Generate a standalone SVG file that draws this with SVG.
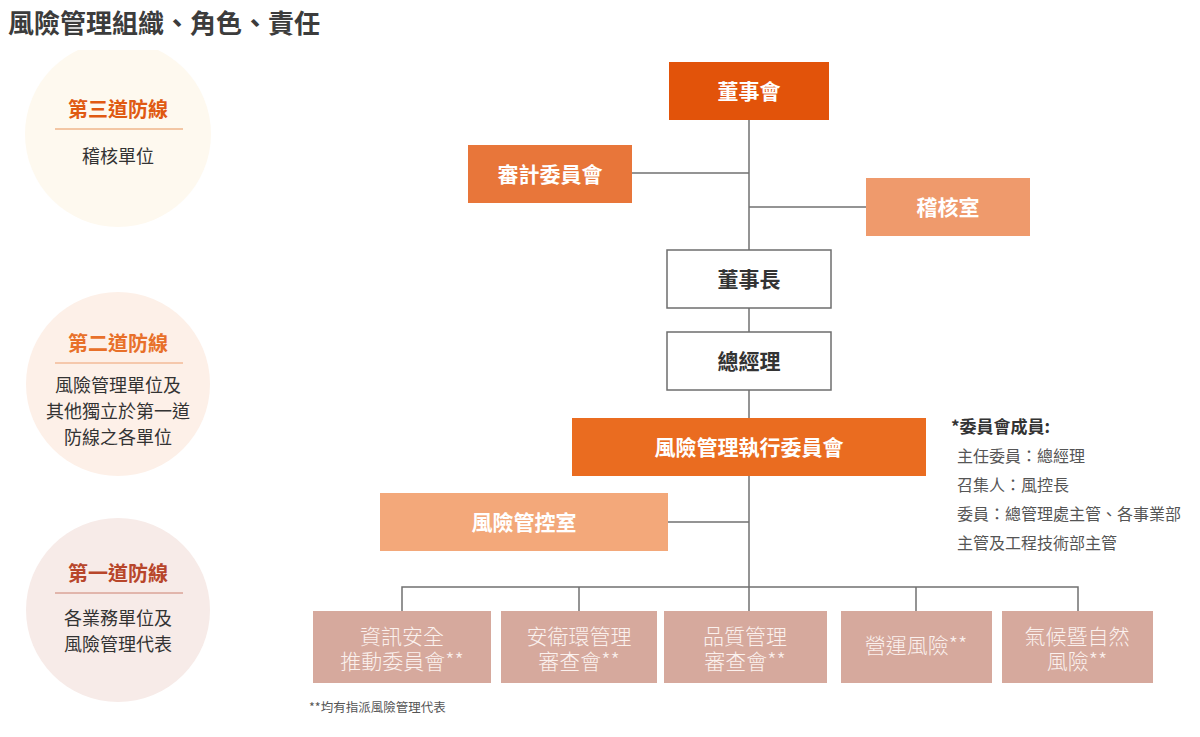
<svg xmlns="http://www.w3.org/2000/svg" width="1200" height="737" viewBox="0 0 1200 737">
<defs>
<style>
text{font-family:"Noto Sans CJK TC","Noto Sans CJK SC",sans-serif;}
.title{font-size:26px;font-weight:700;fill:#3c3c3c;}
.nt{font-size:21px;font-weight:700;fill:#ffffff;text-anchor:middle;}
.nd{font-size:21px;font-weight:700;fill:#333333;text-anchor:middle;}
.nb{font-size:21px;font-weight:300;fill:#fbf1ee;text-anchor:middle;}
.ch{font-size:20px;font-weight:700;text-anchor:middle;}
.cb{font-size:18px;font-weight:400;fill:#333333;text-anchor:middle;}
.mem{font-size:16px;fill:#555555;}
.conn{stroke:#707070;stroke-width:1.5;fill:none;}
.wbox{fill:#ffffff;stroke:#6e6e6e;stroke-width:1.5;}
.bbox{fill:#d6a99d;}
</style>
<clipPath id="topclip"><rect x="0" y="50" width="300" height="700"/></clipPath>
</defs>
<rect width="1200" height="737" fill="#ffffff"/>
<text class="title" x="8" y="33">風險管理組織、角色、責任</text>

<g id="line3">
<circle cx="118" cy="134" r="93" fill="#fef9ef" clip-path="url(#topclip)"/>
<text class="ch" x="118" y="117" fill="#e05a12">第三道防線</text>
<line x1="55" y1="129" x2="183" y2="129" stroke="#e8945a" stroke-width="1"/>
<text class="cb" x="118" y="163">稽核單位</text>
</g>
<g id="line2">
<circle cx="118" cy="384" r="92" fill="#fdf0e8"/>
<text class="ch" x="118" y="351" fill="#e8702a">第二道防線</text>
<line x1="55" y1="363" x2="183" y2="363" stroke="#eea070" stroke-width="1"/>
<text class="cb" x="118" y="392"><tspan x="118">風險管理單位及</tspan><tspan x="118" dy="26">其他獨立於第一道</tspan><tspan x="118" dy="26">防線之各單位</tspan></text>
</g>
<g id="line1">
<circle cx="118" cy="610" r="92" fill="#f7ebe8"/>
<text class="ch" x="118" y="581" fill="#b8462b">第一道防線</text>
<line x1="55" y1="593" x2="183" y2="593" stroke="#cc8070" stroke-width="1"/>
<text class="cb" x="118" y="625"><tspan x="118">各業務單位及</tspan><tspan x="118" dy="26">風險管理代表</tspan></text>
</g>

<g id="connectors">
<line class="conn" x1="749" y1="120" x2="749" y2="611"/>
<line class="conn" x1="632" y1="173" x2="749" y2="173"/>
<line class="conn" x1="749" y1="207" x2="866" y2="207"/>
<line class="conn" x1="668" y1="522" x2="749" y2="522"/>
<polyline class="conn" points="402,611 402,587 1078,587 1078,611"/>
<line class="conn" x1="579" y1="587" x2="579" y2="611"/>
<line class="conn" x1="916" y1="587" x2="916" y2="611"/>
</g>

<g id="board">
<rect x="669" y="62" width="160" height="58" fill="#e2530a"/>
<text class="nt" x="749" y="99">董事會</text>
</g>
<g id="audit-committee">
<rect x="468" y="145" width="164" height="58" fill="#e8763a"/>
<text class="nt" x="550" y="182">審計委員會</text>
</g>
<g id="audit-office">
<rect x="866" y="178" width="164" height="58" fill="#ef9a6c"/>
<text class="nt" x="948" y="215">稽核室</text>
</g>
<g id="chairman">
<rect class="wbox" x="667" y="250" width="164" height="58"/>
<text class="nd" x="749" y="287">董事長</text>
</g>
<g id="gm">
<rect class="wbox" x="667" y="332" width="164" height="58"/>
<text class="nd" x="749" y="369">總經理</text>
</g>
<g id="rm-committee">
<rect x="572" y="418" width="354" height="58" fill="#ea6c20"/>
<text class="nt" x="749" y="455">風險管理執行委員會</text>
</g>
<g id="rm-office">
<rect x="380" y="493" width="288" height="58" fill="#f3a87a"/>
<text class="nt" x="524" y="530">風險管控室</text>
</g>

<g id="infosec">
<rect class="bbox" x="313" y="611" width="178" height="72"/>
<text class="nb" x="402" y="644"><tspan x="402">資訊安全</tspan><tspan x="402" dy="25">推動委員會**</tspan></text>
</g>
<g id="ehs">
<rect class="bbox" x="501" y="611" width="156" height="72"/>
<text class="nb" x="579" y="644"><tspan x="579">安衛環管理</tspan><tspan x="579" dy="25">審查會**</tspan></text>
</g>
<g id="quality">
<rect class="bbox" x="664" y="611" width="163" height="72"/>
<text class="nb" x="745" y="644"><tspan x="745">品質管理</tspan><tspan x="745" dy="25">審查會**</tspan></text>
</g>
<g id="operation">
<rect class="bbox" x="841" y="611" width="151" height="72"/>
<text class="nb" x="916" y="653">營運風險**</text>
</g>
<g id="climate">
<rect class="bbox" x="1002" y="611" width="151" height="72"/>
<text class="nb" x="1077" y="644"><tspan x="1077">氣候暨自然</tspan><tspan x="1077" dy="25">風險**</tspan></text>
</g>

<g id="members">
<text x="951" y="433" font-size="17" font-weight="700" fill="#333333">*委員會成員:</text>
<text class="mem" x="957" y="462">主任委員：總經理</text>
<text class="mem" x="957" y="491">召集人：風控長</text>
<text class="mem" x="957" y="520">委員：總管理處主管、各事業部</text>
<text class="mem" x="957" y="549">主管及工程技術部主管</text>
</g>
<text x="309" y="712" font-size="12.5" fill="#555555">**均有指派風險管理代表</text>
</svg>
